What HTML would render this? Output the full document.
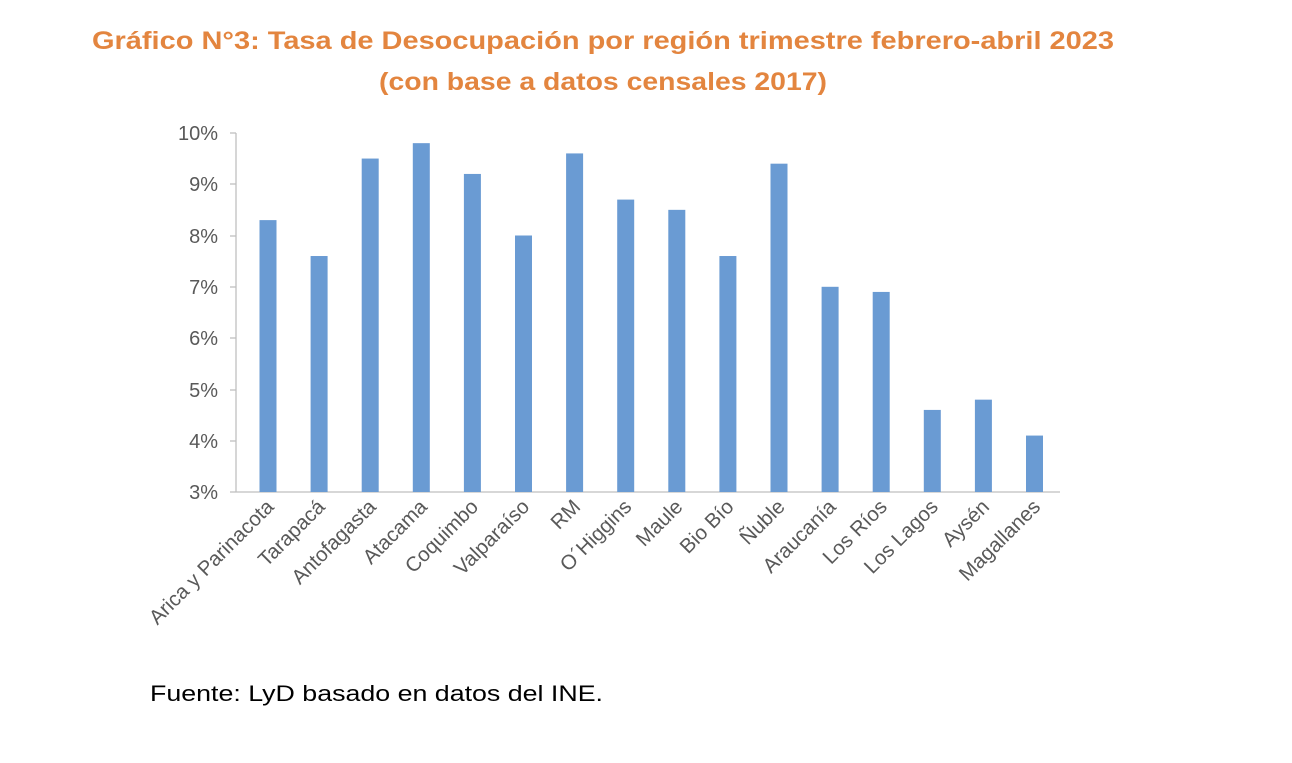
<!DOCTYPE html>
<html><head><meta charset="utf-8"><style>
body{margin:0;background:#fff;width:1292px;height:758px;overflow:hidden}
</style></head><body>
<svg width="1292" height="758" xmlns="http://www.w3.org/2000/svg" font-family="Liberation Sans, sans-serif">
<text x="603" y="49" text-anchor="middle" font-size="25" font-weight="bold" fill="#E3853F" textLength="1022" lengthAdjust="spacingAndGlyphs">Gráfico N°3: Tasa de Desocupación por región trimestre febrero-abril 2023</text>
<text x="603" y="90" text-anchor="middle" font-size="25" font-weight="bold" fill="#E3853F" textLength="448" lengthAdjust="spacingAndGlyphs">(con base a datos censales 2017)</text>
<g font-size="20" fill="#595959" text-anchor="end">
<text x="218" y="140">10%</text><text x="218" y="191">9%</text><text x="218" y="243">8%</text><text x="218" y="294">7%</text><text x="218" y="345">6%</text><text x="218" y="397">5%</text><text x="218" y="448">4%</text><text x="218" y="499">3%</text>
</g>
<g stroke="#bfbfbf" stroke-width="1.3">
<line x1="236" y1="133" x2="236" y2="492"/>
<line x1="236" y1="492" x2="1060" y2="492"/>
<line x1="230" y1="133" x2="236" y2="133"/><line x1="230" y1="184" x2="236" y2="184"/><line x1="230" y1="236" x2="236" y2="236"/><line x1="230" y1="287" x2="236" y2="287"/><line x1="230" y1="338" x2="236" y2="338"/><line x1="230" y1="390" x2="236" y2="390"/><line x1="230" y1="441" x2="236" y2="441"/><line x1="230" y1="492" x2="236" y2="492"/>
</g>
<g id="bars" fill="#6A9BD3"></g>
<g id="labels" font-size="20.5" fill="#595959"></g>
<text x="150" y="701" font-size="22" fill="#000" textLength="453" lengthAdjust="spacingAndGlyphs">Fuente: LyD basado en datos del INE.</text>
<script>
var v=[8.3,7.6,9.5,9.8,9.2,8.0,9.6,8.7,8.5,7.6,9.4,7.0,6.9,4.6,4.8,4.1];
var n=["Arica y Parinacota","Tarapacá","Antofagasta","Atacama","Coquimbo","Valparaíso","RM","O´Higgins","Maule","Bio Bío","Ñuble","Araucanía","Los Ríos","Los Lagos","Aysén","Magallanes"];
var b=document.getElementById("bars"),l=document.getElementById("labels"),ns="http://www.w3.org/2000/svg";
for(var i=0;i<16;i++){var c=268+51.1*i,y=492-(v[i]-3)*51.3;
var r=document.createElementNS(ns,"rect");r.setAttribute("x",c-8.5);r.setAttribute("y",y);r.setAttribute("width",17);r.setAttribute("height",492-y);b.appendChild(r);
var t=document.createElementNS(ns,"text");t.setAttribute("text-anchor","end");t.setAttribute("transform","translate("+(c+7)+",508) rotate(-45)");t.textContent=n[i];l.appendChild(t);}
</script>
</svg>
</body></html>
